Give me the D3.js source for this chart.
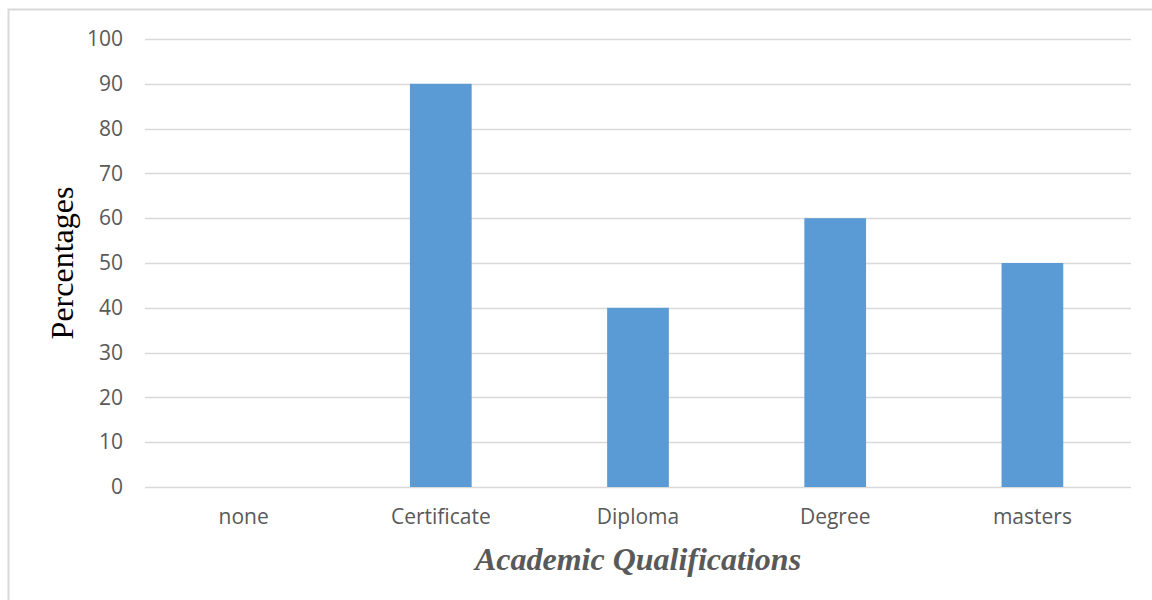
<!DOCTYPE html>
<html>
<head>
<meta charset="utf-8">
<script src="https://cdn.jsdelivr.net/npm/d3@7"></script>
<style>
  body { margin: 0; background: #fff; }
  svg { display: block; }
</style>
</head>
<body>
<svg id="chart" width="1152" height="600"></svg>
<script>
'use strict';
var categories = ['none', 'Certificate', 'Diploma', 'Degree', 'masters'];
var values = [0, 90, 40, 60, 50];
var yTicks = [0, 10, 20, 30, 40, 50, 60, 70, 80, 90, 100];

var svg = d3.select('#chart'),
    margin = {top: 39, right: 21, bottom: 113, left: 145},
    width = +svg.attr('width') - margin.left - margin.right,
    height = +svg.attr('height') - margin.top - margin.bottom;

// outer chart border (runs off the right/bottom edges)
svg.append('rect')
    .attr('x', 8.5).attr('y', 9.5)
    .attr('width', 1160).attr('height', 600)
    .attr('fill', 'none')
    .attr('stroke', '#d9d9d9')
    .attr('stroke-width', 2);

var g = svg.append('g').attr('transform', 'translate(' + margin.left + ',' + margin.top + ')');

var x = d3.scaleBand().domain(categories).range([0, width]).paddingInner(0.687).paddingOuter(0.3435);
var y = d3.scaleLinear().domain([0, 100]).range([height, 0]);

// gridlines
g.append('g').selectAll('line')
    .data(yTicks)
    .enter().append('line')
    .attr('x1', 0).attr('x2', width)
    .attr('y1', function (d) { return Math.round(y(d)) + 0.5; })
    .attr('y2', function (d) { return Math.round(y(d)) + 0.5; })
    .attr('stroke', '#d9d9d9')
    .attr('stroke-width', 1.5);

var tickFont = '"Open Sans", sans-serif';
var yAxis = d3.axisLeft(y).tickValues(yTicks).tickSize(0).tickPadding(22);
g.append('g')
    .attr('class', 'axis axis--y')
    .call(yAxis)
    .call(function (s) { s.select('.domain').remove(); })
    .selectAll('text')
    .attr('fill', '#595959')
    .style('font-family', tickFont)
    .style('font-size', '21px');

var xAxis = d3.axisBottom(x).tickSize(0).tickPadding(22);
g.append('g')
    .attr('class', 'axis axis--x')
    .attr('transform', 'translate(0,' + height + ')')
    .call(xAxis)
    .call(function (s) { s.select('.domain').remove(); })
    .selectAll('text')
    .attr('fill', '#595959')
    .style('font-family', tickFont)
    .style('font-size', '21px');

// bars
g.append('g').selectAll('rect')
    .data(values)
    .enter().append('rect')
    .attr('x', function (d, i) { return x(categories[i]); })
    .attr('y', function (d) { return y(d); })
    .attr('width', x.bandwidth())
    .attr('height', function (d) { return height - y(d); })
    .attr('fill', '#5b9bd5');

// axis titles
svg.append('text')
    .attr('transform', 'translate(73,' + (margin.top + height / 2) + ') rotate(-90)')
    .attr('text-anchor', 'middle')
    .attr('fill', '#000')
    .style('font-family', '"Liberation Serif", "Times New Roman", serif')
    .style('font-size', '32px')
    .text('Percentages');

svg.append('text')
    .attr('x', margin.left + width / 2)
    .attr('y', 570)
    .attr('text-anchor', 'middle')
    .attr('fill', '#595959')
    .style('font-family', '"Liberation Serif", "Times New Roman", serif')
    .style('font-size', '32px')
    .style('font-weight', 'bold')
    .style('font-style', 'italic')
    .text('Academic Qualifications');
</script>
</body>
</html>
